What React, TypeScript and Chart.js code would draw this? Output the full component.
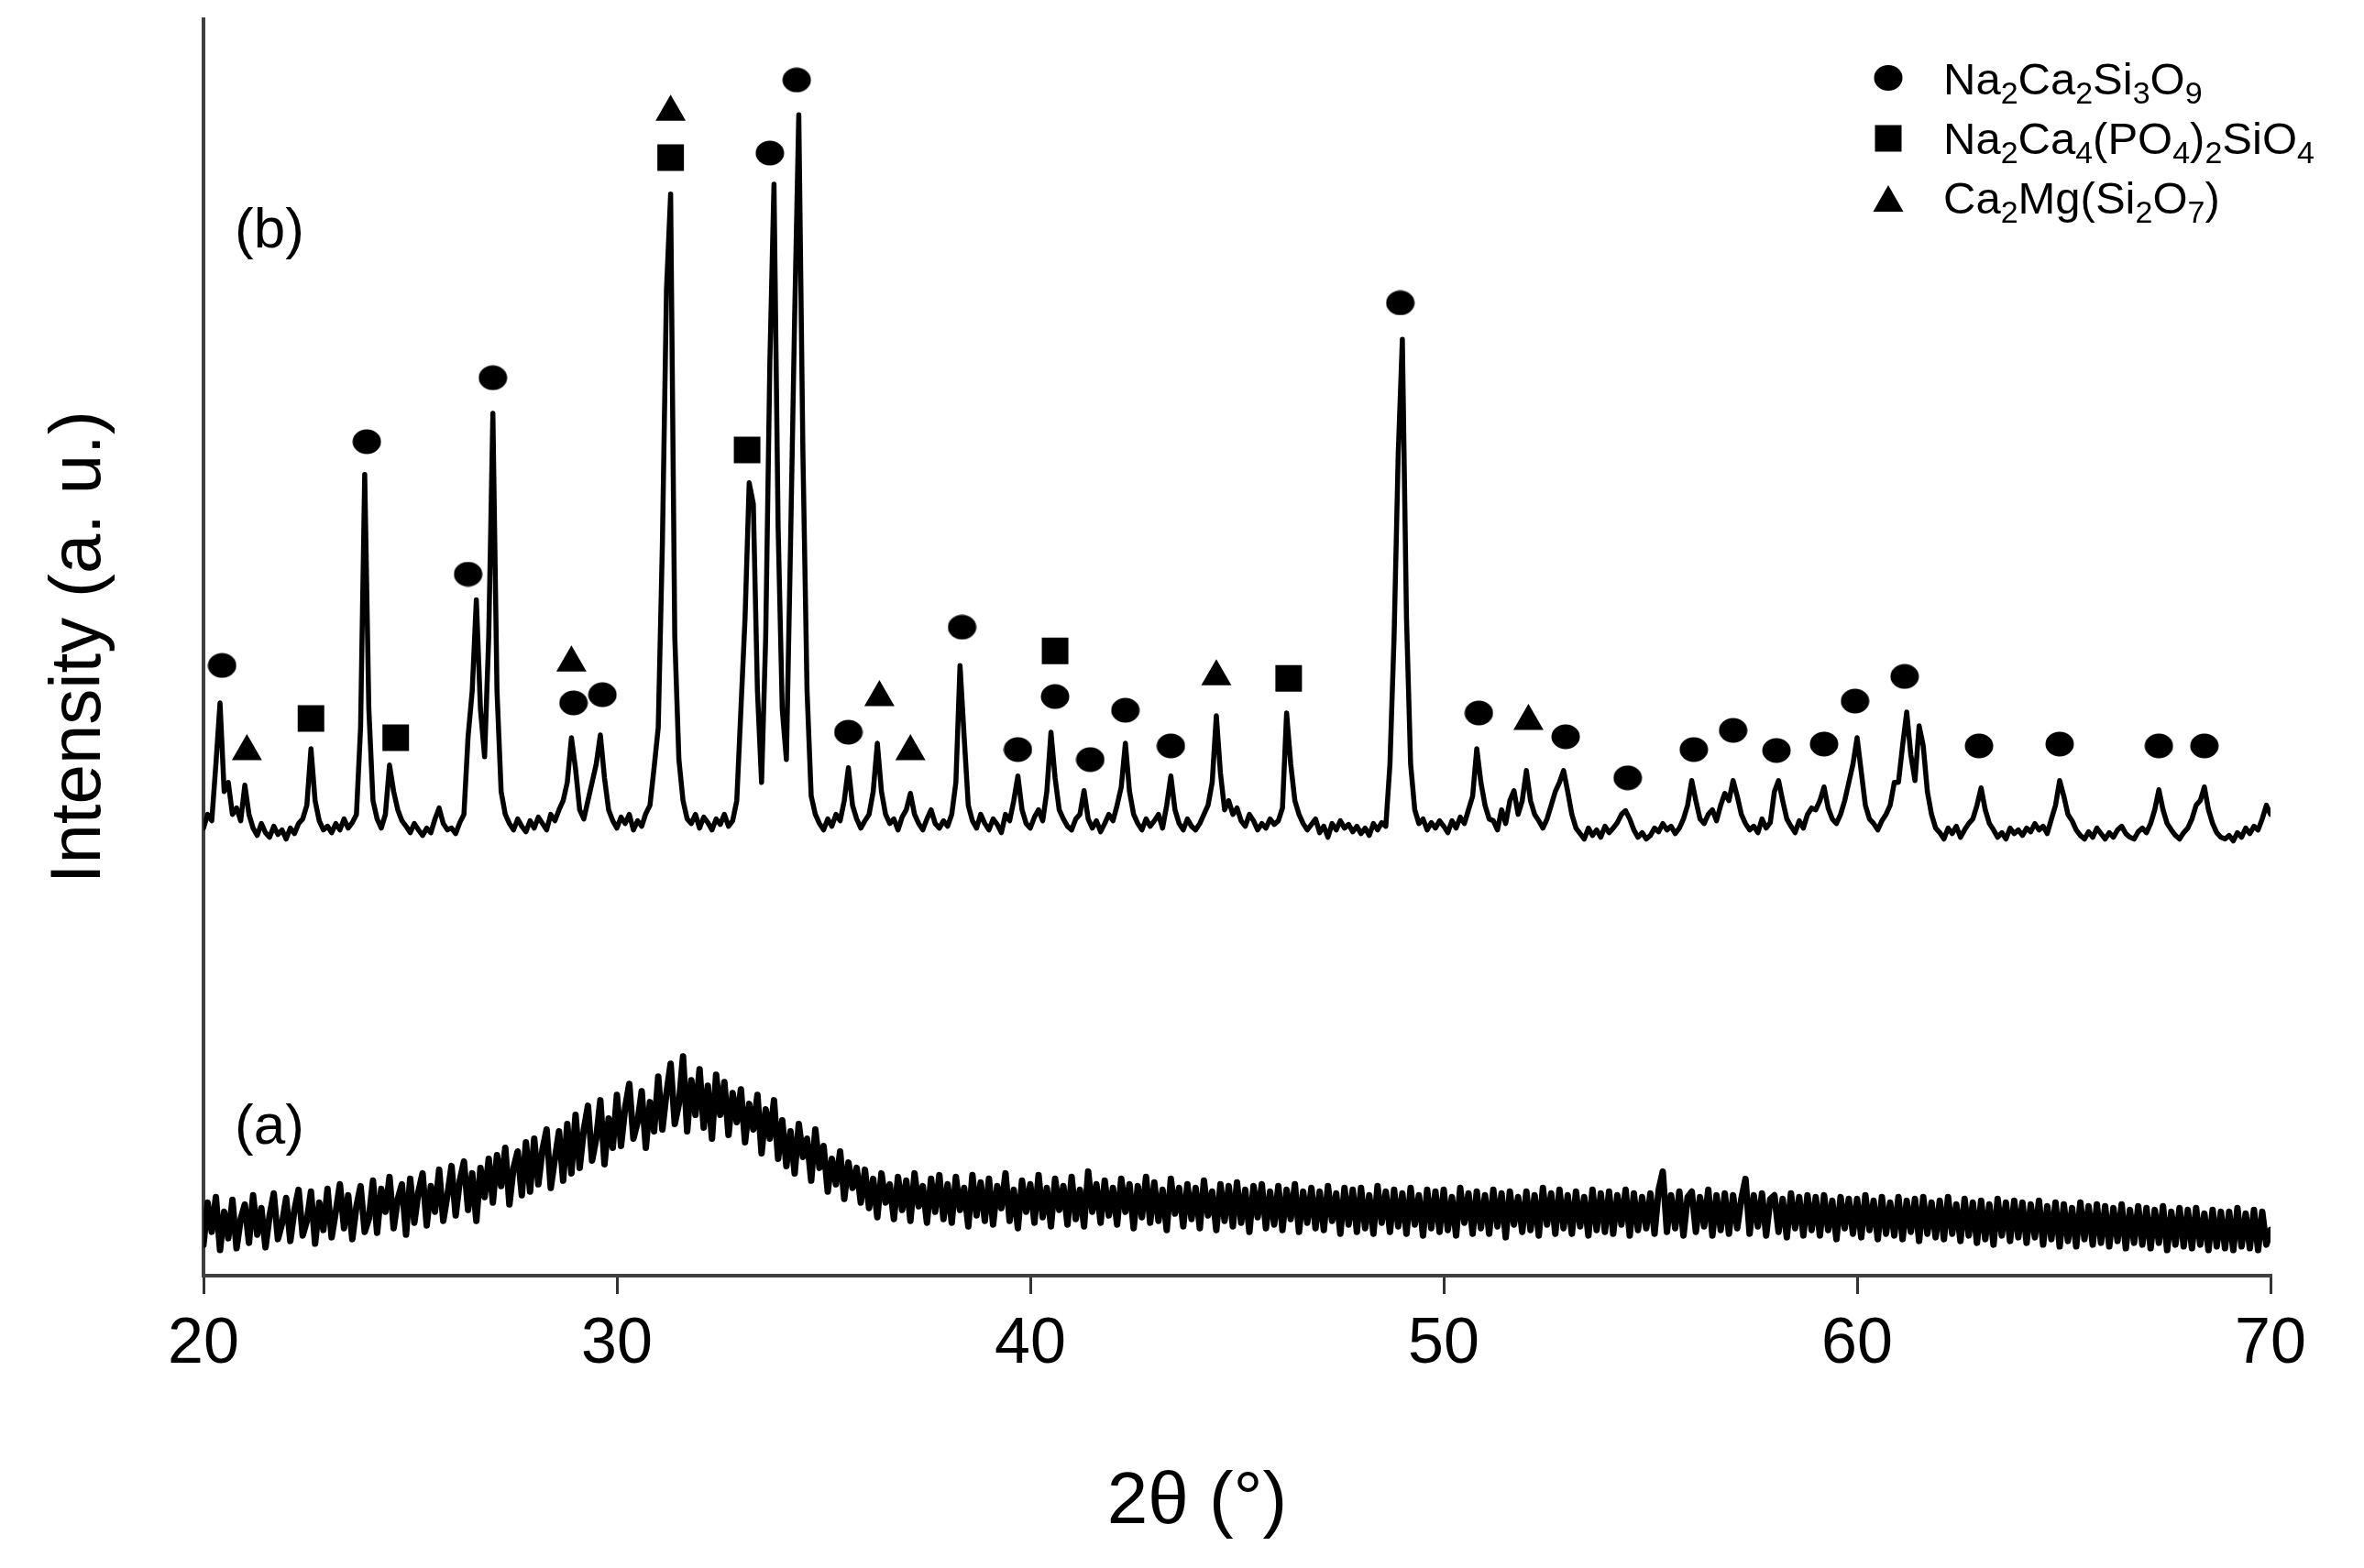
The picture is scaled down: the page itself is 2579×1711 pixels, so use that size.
import React, { useEffect, useRef } from 'react';
import { Chart, registerables } from 'chart.js';

Chart.register(...registerables);

const FONT = '"Liberation Sans", Arial, Helvetica, sans-serif';

// sampling grid of both patterns (2θ, degrees)
const X_START = 20;
const X_STEP = 0.1;

// (a) amorphous glass, intensity (a.u.) every 0.1° from 20° to 70°
const patternA: number[] = [
  34, 80, 48, 86, 28, 70, 41, 83, 30, 62,
  78, 36, 88, 45, 74, 31, 66, 90, 40, 57,
  85, 38, 72, 94, 44, 60, 92, 35, 80, 50,
  95, 42, 70, 100, 52, 88, 40, 76, 98, 48,
  62, 104, 47, 95, 70, 108, 52, 84, 100, 45,
  106, 58, 92, 112, 55, 98, 70, 116, 60, 88,
  120, 66, 104, 125, 72, 112, 60, 118, 86, 128,
  80, 132, 98, 140, 78, 118, 136, 88, 146, 92,
  150, 100, 138, 160, 96, 128, 158, 104, 166, 112,
  176, 118, 160, 186, 126, 150, 192, 122, 172, 140,
  198, 142, 184, 210, 150, 168, 202, 140, 190, 158,
  218, 160, 200, 232, 166, 188, 240, 158, 214, 176,
  226, 162, 208, 150, 220, 176, 212, 154, 200, 168,
  204, 146, 188, 160, 198, 134, 182, 150, 192, 128,
  170, 120, 158, 112, 166, 130, 150, 104, 160, 118,
  142, 92, 128, 100, 136, 84, 124, 96, 118, 80,
  116, 74, 106, 64, 112, 80, 100, 62, 108, 72,
  104, 60, 112, 76, 98, 58, 106, 70, 110, 62,
  100, 58, 108, 72, 96, 54, 110, 66, 102, 60,
  106, 56, 98, 74, 112, 60, 94, 52, 104, 70,
  100, 58, 110, 64, 96, 54, 106, 72, 98, 56,
  108, 62, 94, 54, 114, 70, 100, 58, 104, 66,
  96, 56, 106, 70, 100, 52, 98, 64, 108, 58,
  102, 60, 94, 50, 106, 68, 96, 54, 100, 62,
  96, 52, 104, 66, 92, 50, 100, 60, 98, 54,
  102, 58, 94, 48, 98, 64, 100, 52, 92, 56,
  98, 50, 94, 62, 100, 48, 92, 58, 96, 52,
  92, 50, 98, 60, 90, 46, 96, 56, 94, 48,
  96, 52, 88, 46, 98, 58, 92, 48, 94, 54,
  90, 46, 96, 56, 88, 44, 94, 52, 92, 48,
  94, 50, 86, 44, 96, 58, 90, 46, 92, 52,
  88, 46, 94, 54, 90, 42, 92, 56, 86, 48,
  92, 50, 88, 44, 96, 56, 90, 46, 94, 52,
  88, 46, 92, 54, 86, 44, 94, 50, 90, 48,
  92, 46, 88, 56, 94, 44, 90, 50, 86, 52,
  90, 46, 94, 114, 48, 88, 52, 92, 44, 86,
  92, 48, 86, 54, 94, 44, 88, 50, 90, 46,
  88, 52, 84, 106, 46, 88, 54, 90, 44, 84,
  88, 48, 84, 42, 90, 52, 86, 44, 88, 50,
  86, 44, 88, 50, 82, 40, 86, 52, 84, 46,
  84, 42, 88, 50, 82, 40, 86, 46, 80, 44,
  86, 40, 82, 48, 84, 38, 86, 46, 80, 42,
  82, 40, 86, 46, 78, 38, 84, 44, 80, 36,
  82, 40, 78, 34, 84, 44, 80, 38, 82, 42,
  80, 36, 78, 42, 82, 34, 76, 40, 80, 32,
  78, 38, 74, 32, 80, 40, 76, 34, 78, 36,
  76, 32, 74, 38, 78, 30, 72, 36, 76, 34,
  74, 30, 72, 36, 76, 28, 70, 34, 74, 32,
  72, 30, 74, 34, 68, 28, 72, 32, 70, 30,
  70, 28, 74, 32, 68, 30, 72, 28, 70, 34,
  50,
];

// (b) crystallised glass-ceramic, intensity (a.u.) every 0.1° from 20° to 70°
const patternB: number[] = [
  490, 505, 498, 560, 627, 530, 540, 505, 512, 498,
  537, 505, 490, 482, 495, 485, 480, 492, 483, 488,
  478, 490, 484, 495, 500, 515, 577, 520, 498, 488,
  492, 485, 495, 488, 500, 490, 496, 505, 600, 877,
  620, 520, 500, 490, 505, 559, 530, 510, 498, 492,
  485, 495, 488, 482, 490, 485, 500, 512, 495, 488,
  490, 484, 496, 505, 590, 640, 740, 620, 568, 700,
  944, 640, 530, 505, 495, 488, 500, 492, 486, 498,
  490, 502, 495, 488, 505, 498, 510, 520, 540, 589,
  555, 510, 500, 520, 540, 560, 592, 545, 510, 498,
  490, 502, 495, 505, 488, 498, 492, 506, 515, 556,
  600, 800, 1080, 1184, 700, 565, 520, 500, 495, 505,
  490, 502, 496, 488, 500, 494, 505, 492, 498, 520,
  620, 720, 868, 845, 640, 540, 700, 1000, 1195, 820,
  620, 565, 800, 1050, 1271, 900, 640, 525, 505, 495,
  488, 500, 492, 505, 498, 520, 556, 515, 500, 490,
  498, 505, 530, 583, 530, 505, 495, 500, 488, 502,
  510, 528, 505, 495, 488, 500, 510, 495, 490, 498,
  492, 505, 540, 668, 590, 515, 498, 490, 505, 495,
  488, 500, 494, 485, 505, 498, 520, 547, 510, 495,
  490, 502, 510, 498, 530, 595, 545, 510, 500, 492,
  488, 500, 505, 531, 500, 490, 498, 486, 495, 505,
  498, 515, 535, 583, 530, 505, 495, 488, 500, 492,
  498, 505, 490, 515, 547, 510, 495, 488, 500, 492,
  488, 495, 505, 515, 540, 613, 550, 510, 520, 505,
  512, 498, 492, 505, 498, 488, 495, 490, 500, 494,
  498, 512, 616, 560, 520, 505, 495, 488, 494, 500,
  485, 492, 480, 495, 488, 498, 490, 494, 486, 492,
  484, 490, 482, 495, 488, 496, 492, 560, 700, 900,
  1025, 720, 560, 510, 495, 500, 488, 496, 490, 498,
  492, 485, 498, 490, 502, 495, 510, 525, 577, 540,
  515, 500, 498, 488, 510, 495, 520, 531, 505, 520,
  553, 520, 505, 498, 490, 500, 515, 530, 540, 553,
  530, 505, 490, 484, 478, 490, 482, 488, 480, 492,
  485, 490, 496, 505, 509, 500, 488, 480, 485, 478,
  482, 490, 486, 495, 488, 492, 484, 490, 500, 515,
  542, 520, 500, 495, 505, 510, 498, 515, 528, 520,
  542, 525, 505, 495, 488, 492, 485, 500, 490, 496,
  530, 542, 520, 500, 492, 485, 498, 490, 505, 512,
  510, 520, 535, 512, 500, 495, 505, 520, 540, 560,
  589, 552, 515, 500, 495, 488, 498, 505, 515, 540,
  540, 580, 617, 570, 542, 602, 580, 530, 505, 490,
  485, 478, 490, 484, 492, 480, 488, 495, 500, 515,
  534, 510, 495, 488, 480, 485, 478, 490, 484, 488,
  482, 490, 486, 495, 488, 492, 484, 500, 515, 542,
  525, 505, 498, 488, 482, 478, 486, 480, 490, 484,
  478, 485, 480, 488, 492, 484, 480, 478, 486, 490,
  485, 495, 510, 532, 510, 495, 488, 482, 478, 485,
  490, 500, 515, 520, 535, 510, 495, 485, 480, 478,
  482, 476, 485, 480, 490, 484, 492, 488, 500, 515,
  505,
];

// phase markers: [2θ, marker height]
const circleMarks: [number, number][] = [
  [20.45, 668], [23.95, 913], [26.4, 768], [27.0, 983], [28.95, 627], [29.65, 636],
  [33.7, 1229], [34.35, 1309], [35.6, 595], [38.35, 710], [39.7, 576], [40.6, 634],
  [41.45, 565], [42.3, 619], [43.4, 580], [48.95, 1065], [50.85, 616], [52.95, 590],
  [54.45, 545], [56.05, 576], [57.0, 597], [58.05, 575], [59.2, 582], [59.95, 629],
  [61.15, 656], [62.95, 580], [64.9, 582], [67.3, 580], [68.4, 580],
];
const squareMarks: [number, number][] = [
  [22.6, 610], [24.65, 589], [31.3, 1224], [33.15, 904], [40.6, 684], [46.25, 654],
];
const triangleMarks: [number, number][] = [
  [21.05, 574], [28.9, 671], [31.3, 1274], [36.35, 633], [37.1, 574], [44.5, 656], [52.05, 607],
];

const legendLabels = ['Na_2Ca_2Si_3O_9', 'Na_2Ca_4(PO_4)_2SiO_4', 'Ca_2Mg(Si_2O_7)'];
const legendShapes = ['circle', 'square', 'triangle'];
const panelLabels = ['(a)', '(b)'];
const xTitle = '2θ (°)';
const yTitle = 'Intensity (a. u.)';
const X_MIN = 20;
const X_MAX = 70;
const X_TICK_STEP = 10;
const Y_MAX = 1376;

function drawRich(ctx: CanvasRenderingContext2D, text: string, x: number, baseline: number, size: number) {
  const parts = text.split(/(_\d)/).filter((p) => p.length > 0);
  let cx = x;
  ctx.textAlign = 'left';
  ctx.textBaseline = 'alphabetic';
  for (const p of parts) {
    if (p.startsWith('_')) {
      const s = p.slice(1);
      ctx.font = `${Math.round(size * 0.7)}px ${FONT}`;
      ctx.fillText(s, cx, baseline + size * 0.2);
      cx += ctx.measureText(s).width;
    } else {
      ctx.font = `${size}px ${FONT}`;
      ctx.fillText(p, cx, baseline);
      cx += ctx.measureText(p).width;
    }
  }
}

function drawShape(ctx: CanvasRenderingContext2D, shape: string, x: number, y: number) {
  ctx.beginPath();
  if (shape === 'circle') {
    ctx.ellipse(x, y, 15.5, 14, 0, 0, Math.PI * 2);
  } else if (shape === 'square') {
    ctx.rect(x - 14.5, y - 14.5, 29, 29);
  } else {
    ctx.moveTo(x, y - 15);
    ctx.lineTo(x + 16.5, y + 14);
    ctx.lineTo(x - 16.5, y + 14);
    ctx.closePath();
  }
  ctx.fill();
}

const annotations = {
  id: 'xrdAnnotations',
  afterDraw(chart: any) {
    const ctx: CanvasRenderingContext2D = chart.ctx;
    ctx.save();
    ctx.fillStyle = '#000';
    // legend
    const lx = 2060;
    const rows = [85, 151, 217];
    const baselines = [103, 168, 233];
    legendLabels.forEach((lab, i) => {
      drawShape(ctx, legendShapes[i], lx, rows[i]);
      drawRich(ctx, lab, 2120, baselines[i], 49);
    });
    // panel labels
    ctx.font = `62px ${FONT}`;
    ctx.textAlign = 'left';
    ctx.textBaseline = 'alphabetic';
    ctx.fillText(panelLabels[0], 256, 1248);
    ctx.fillText(panelLabels[1], 256, 270);
    // x title
    ctx.font = `80px ${FONT}`;
    ctx.textAlign = 'center';
    ctx.fillText(xTitle, 1306, 1662);
    ctx.restore();
  },
};

function toPoints(values: number[]) {
  return values.map((v, i) => ({ x: X_START + i * X_STEP, y: v }));
}
function markPoints(marks: [number, number][]) {
  return marks.map(([x, y]) => ({ x, y }));
}

export default function App() {
  const ref = useRef<HTMLCanvasElement>(null);
  useEffect(() => {
    const canvas = ref.current;
    if (!canvas) return;
    const dot = document.createElement('canvas');
    dot.width = 32;
    dot.height = 28;
    const dctx = dot.getContext('2d')!;
    dctx.fillStyle = '#000';
    dctx.beginPath();
    dctx.ellipse(16, 14, 15.5, 13.5, 0, 0, Math.PI * 2);
    dctx.fill();

    const chart = new Chart(canvas, {
      type: 'line',
      data: {
        datasets: [
          {
            label: 'Na2Ca2Si3O9',
            data: markPoints(circleMarks),
            showLine: false,
            pointStyle: dot as any,
            pointRadius: 15,
            backgroundColor: '#000',
            borderColor: '#000',
          },
          {
            label: 'Na2Ca4(PO4)2SiO4',
            data: markPoints(squareMarks),
            showLine: false,
            pointStyle: 'rect',
            pointRadius: 20.5,
            pointBorderWidth: 0,
            backgroundColor: '#000',
            borderColor: '#000',
          },
          {
            label: 'Ca2Mg(Si2O7)',
            data: markPoints(triangleMarks),
            showLine: false,
            pointStyle: 'triangle',
            pointRadius: 19,
            pointBorderWidth: 0,
            backgroundColor: '#000',
            borderColor: '#000',
          },
          {
            label: '(b)',
            data: toPoints(patternB),
            borderColor: '#000',
            borderWidth: 5.5,
            pointRadius: 0,
            tension: 0,
            borderJoinStyle: 'round',
            borderCapStyle: 'round',
            fill: false,
          },
          {
            label: '(a)',
            data: toPoints(patternA),
            borderColor: '#000',
            borderWidth: 7,
            pointRadius: 0,
            tension: 0,
            borderJoinStyle: 'round',
            borderCapStyle: 'round',
            fill: false,
          },
        ],
      },
      options: {
        responsive: false,
        animation: false,
        events: [],
        layout: { padding: { top: 16, right: 102, bottom: 0, left: 0 } },
        plugins: {
          legend: { display: false },
          tooltip: { enabled: false },
          title: { display: false },
        },
        scales: {
          x: {
            type: 'linear',
            min: X_MIN,
            max: X_MAX,
            afterFit: (scale: any) => {
              scale.height = 319;
            },
            ticks: {
              stepSize: X_TICK_STEP,
              autoSkip: false,
              maxRotation: 0,
              padding: 14,
              color: '#000',
              font: { family: FONT, size: 70 },
            },
            grid: {
              drawOnChartArea: false,
              drawTicks: true,
              tickLength: 20,
              color: '#333',
              lineWidth: 3,
            },
            border: { display: true, color: '#404040', width: 4 },
          },
          y: {
            type: 'linear',
            min: 0,
            max: Y_MAX,
            afterFit: (scale: any) => {
              scale.width = 222;
            },
            ticks: { display: false },
            grid: { display: false, drawTicks: false },
            border: { display: true, color: '#404040', width: 4 },
            title: {
              display: true,
              text: yTitle,
              color: '#000',
              font: { family: FONT, size: 78 },
              padding: { top: 41, bottom: 0 },
            },
          },
        },
      },
      plugins: [annotations],
    });
    return () => chart.destroy();
  }, []);

  return (
    <div style={{ position: 'fixed', left: 0, top: 0, width: 2579, height: 1711, background: '#fff' }}>
      <canvas ref={ref} width={2579} height={1711} style={{ width: 2579, height: 1711, display: 'block' }} />
    </div>
  );
}
